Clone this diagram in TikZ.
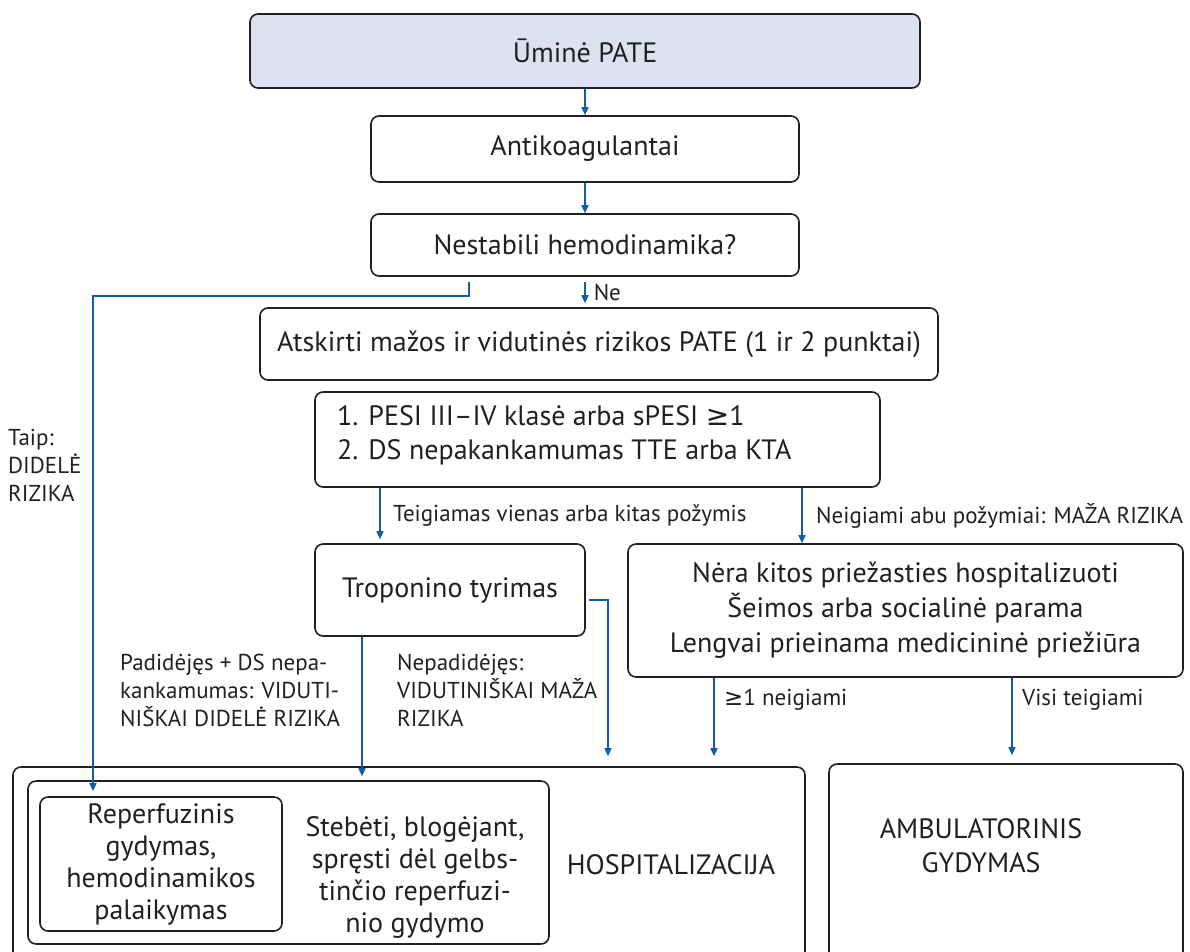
\documentclass[tikz,border=0pt]{standalone}
\usepackage{fontspec}
\setmainfont{PT Sans}
\newfontfamily\symf{DejaVu Sans}
\usetikzlibrary{arrows.meta,calc}
\definecolor{arrblue}{RGB}{16,92,170}
\definecolor{boxgray}{RGB}{35,31,32}
\definecolor{topfill}{RGB}{220,225,240}
\newcommand{\mygeq}{{\symf ≥}}
\begin{document}
\begin{tikzpicture}[x=1pt,y=-1pt,
  box/.style={draw=boxgray, line width=1.6pt, rounded corners=8pt, inner sep=0pt, text=boxgray},
  arr/.style={draw=arrblue, line width=1.5pt, -{Triangle[length=8pt,width=7pt]}},
  main/.style={font=\fontsize{28}{32}\selectfont, text=boxgray},
  lab/.style={font=\fontsize{23}{28}\selectfont, text=boxgray, inner sep=0pt}]
\useasboundingbox (0,0) rectangle (1190,951);

% boxes
\node[box, main, fill=topfill, minimum width=670pt, minimum height=74pt] (top) at (585,51) {Ūminė PATE};
\node[box, main, minimum width=428pt, minimum height=66pt] (anti) at (585,149) {Antikoagulantai};
\node[box, main, minimum width=428pt, minimum height=62pt] (nest) at (585,245) {Nestabili hemodinamika?};
\node[box, main, minimum width=678pt, minimum height=72pt] (atsk) at (599,344) {Atskirti mažos ir vidutinės rizikos PATE (1 ir 2 punktai)};
\node[box, minimum width=565pt, minimum height=95pt] (pesi) at (597.5,439.5) {};
\node[main, align=left, anchor=west, inner sep=0pt] (pesitext) at (337,435) {1. PESI III–IV klasė arba sPESI \mygeq1\\[2pt]2. DS nepakankamumas TTE arba KTA};
\node[box, main, minimum width=270pt, minimum height=92pt] (trop) at (450,590) {Troponino tyrimas};
\node[box, main, align=center, minimum width=555pt, minimum height=133pt] (nera) at (905.5,610.5) {Nėra kitos priežasties hospitalizuoti\\[3pt]Šeimos arba socialinė parama\\[3pt]Lengvai prieinama medicininė priežiūra};

\node[box, minimum width=792pt, minimum height=198pt] (hosp) at (409,866) {};
\node[box, minimum width=521pt, minimum height=163pt] (mid) at (288.5,862.5) {};
\node[box, main, align=center, minimum width=242pt, minimum height=134pt] (rep) at (161,864) {Reperfuzinis\\gydymas,\\hemodinamikos\\palaikymas};
\node[main, align=center] (stebtext) at (415,877) {Stebėti, blogėjant,\\spręsti dėl gelbs-\\tinčio reperfuzi-\\nio gydymo};
\node[main] (hosptext) at (671,865) {HOSPITALIZACIJA};
\node[box, minimum width=354pt, minimum height=201pt] (amb) at (1006,864.5) {};
\node[main, align=center] (ambtext) at (981,846) {AMBULATORINIS\\[2pt]GYDYMAS};

% helper coordinates
\coordinate (hT) at ([yshift=10pt]hosp.north);
\coordinate (aT) at ([yshift=8pt]amb.north);
\coordinate (mT) at ([yshift=4pt]mid.north);
\coordinate (tipTaip) at ([xshift=-68pt,yshift=5pt]rep.north);

% connectors
\draw[arr] (top.south) -- (anti.north);
\draw[arr] (anti.south) -- (nest.north);
\draw[arr] ([yshift=-5pt]nest.south) -- ([yshift=4pt]nest.south |- atsk.north)
  node[lab, pos=0.5, anchor=west, xshift=8pt] (neLab) {Ne};
\draw[arr] ([xshift=-116pt,yshift=-5pt]nest.south) -- ++(0,14) -| (tipTaip);
\draw[arr] ([xshift=-217.5pt]pesi.south) -- ([xshift=-217.5pt,yshift=4pt]pesi.south |- trop.north);
\draw[arr] ([xshift=204.5pt]pesi.south) -- ([xshift=204.5pt]pesi.south |- nera.north);
\draw[arr] ([xshift=-88pt]trop.south) -- ([xshift=-88pt]trop.south |- mT);
\draw[arr] ([xshift=3pt,yshift=-10pt]trop.east) -| ([xshift=199pt]hT);
\draw[arr] ([xshift=-191.5pt]nera.south) -- ([xshift=-191.5pt]nera.south |- hT);
\draw[arr] ([xshift=106.5pt]nera.south) -- ([xshift=106.5pt]nera.south |- aT);

% labels
\node[lab, anchor=west] (teig) at (393,516) {Teigiamas vienas arba kitas požymis};
\node[lab, anchor=west] (neig) at (816,516) {Neigiami abu požymiai: MAŽA RIZIKA};
\node[lab, anchor=west] (geneig) at (724,700) {\mygeq1 neigiami};
\node[lab, anchor=west] (visi) at (1022,700) {Visi teigiami};
\node[lab, anchor=west, align=left] (padid) at (120,690) {Padidėjęs + DS nepa-\\kankamumas: VIDUTI-\\NIŠKAI DIDELĖ RIZIKA};
\node[lab, anchor=west, align=left] (nepad) at (397,690) {Nepadidėjęs:\\VIDUTINIŠKAI MAŽA\\RIZIKA};
\node[lab, anchor=west, align=left] (taip) at (8,465) {Taip:\\DIDELĖ\\RIZIKA};
\end{tikzpicture}
\end{document}
